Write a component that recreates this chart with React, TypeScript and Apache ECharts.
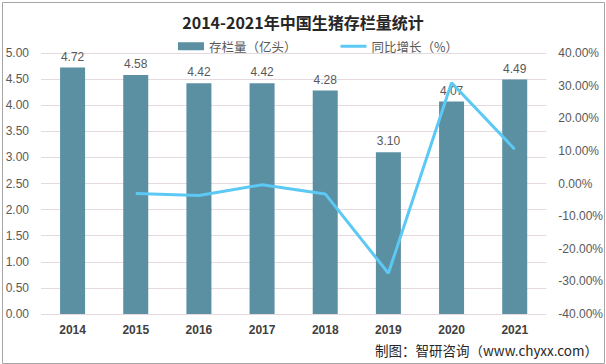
import React, { useEffect, useRef } from "react";
import * as echarts from "echarts";

const years = ["2014", "2015", "2016", "2017", "2018", "2019", "2020", "2021"];
const stock = [4.72, 4.58, 4.42, 4.42, 4.28, 3.1, 4.07, 4.49];
const growth = [null, -3.1, -3.7, -0.4, -3.2, -27.5, 30.9, 10.5];
const leftTicks = { min: 0, max: 5, interval: 0.5 };
const rightTicks = { min: -40, max: 40, interval: 10 };
const titleText = "2014-2021年中国生猪存栏量统计";
const sourceText = "制图：智研咨询（www.chyxx.com）";

const FONT = "'Noto Sans CJK SC', 'Liberation Sans', sans-serif";

export default function App() {
  const ref = useRef<HTMLDivElement>(null);
  useEffect(() => {
    document.body.style.margin = "0";
    const chart = echarts.init(ref.current!, null, { renderer: "svg" });
    chart.setOption({
      animation: false,
      backgroundColor: "#ffffff",
      textStyle: { fontFamily: FONT },
      title: {
        text: titleText,
        left: "center",
        top: 9,
        textStyle: { fontSize: 16, fontWeight: "bold", color: "#262626", fontFamily: FONT },
      },
      legend: {
        top: 35,
        left: 173,
        itemGap: 44,
        itemWidth: 26,
        itemHeight: 8,
        symbolKeepAspect: true,
        textStyle: { fontSize: 12.5, color: "#595959", fontFamily: FONT },
        data: [
          { name: "存栏量（亿头）", icon: "rect" },
          { name: "同比增长（%）", icon: "path://M0,0H26V3H0Z" },
        ],
      },
      grid: { left: 41, right: 54, top: 53, bottom: 50 },
      xAxis: {
        type: "category",
        data: years,
        axisLine: { show: false },
        axisTick: { show: false },
        axisLabel: { margin: 10, fontSize: 12, fontWeight: "bold", color: "#404040", fontFamily: "'Liberation Sans', sans-serif" },
      },
      yAxis: [
        {
          type: "value",
          ...leftTicks,
          axisLine: { show: false },
          axisTick: { show: false },
          splitLine: { lineStyle: { color: "#e3d9df", width: 1 } },
          axisLabel: {
            margin: 12,
            fontSize: 12,
            color: "#595959",
            fontFamily: "'Liberation Sans', sans-serif",
            formatter: (v: number) => v.toFixed(2),
          },
        },
        {
          type: "value",
          ...rightTicks,
          axisLine: { show: false },
          axisTick: { show: false },
          splitLine: { show: false },
          axisLabel: {
            margin: 12,
            fontSize: 12,
            color: "#595959",
            fontFamily: "'Liberation Sans', sans-serif",
            formatter: (v: number) => v.toFixed(2) + "%",
          },
        },
      ],
      series: [
        {
          name: "存栏量（亿头）",
          type: "bar",
          data: stock,
          barWidth: 25,
          itemStyle: { color: "#5b8fa2" },
          label: {
            show: true,
            position: "top",
            distance: 5,
            fontSize: 12,
            color: "#595959",
            fontFamily: "'Liberation Sans', sans-serif",
            formatter: (p: any) => Number(p.value).toFixed(2),
          },
        },
        {
          name: "同比增长（%）",
          type: "line",
          yAxisIndex: 1,
          data: growth,
          showSymbol: false,
          symbol: "none",
          lineStyle: { color: "#5cc8f4", width: 3 },
          itemStyle: { color: "#5cc8f4" },
        },
      ],
      graphic: [
        {
          type: "rect",
          left: 0,
          top: 0,
          shape: { x: 0.5, y: 0.5, width: 602, height: 361 },
          style: { fill: "none", stroke: "#a6a6a6", lineWidth: 1 },
          silent: true,
        },
        {
          type: "text",
          right: 8,
          top: 343,
          style: { text: sourceText, fontSize: 13.5, fill: "#262626", fontFamily: FONT },
        },
      ],
    });
    return () => chart.dispose();
  }, []);
  return <div ref={ref} style={{ position: "fixed", left: 0, top: 0, width: 606, height: 364 }} />;
}
